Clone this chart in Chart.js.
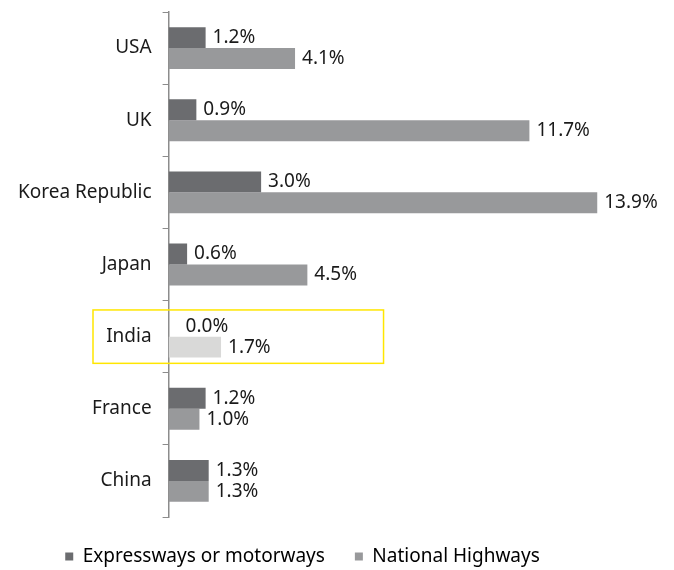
<!DOCTYPE html>
<html>
<head>
<meta charset="utf-8">
<script src="https://cdn.jsdelivr.net/npm/chart.js@4.4.1/dist/chart.umd.min.js"></script>
<style>
  html, body { margin: 0; padding: 0; background: #fff; }
  #wrap { width: 674px; height: 570px; }
</style>
</head>
<body>
<div id="wrap"><canvas id="roadChart"></canvas></div>
<script>
const countries = ['USA', 'UK', 'Korea Republic', 'Japan', 'India', 'France', 'China'];
const expressways = [1.2, 0.9, 3.0, 0.6, 0.0, 1.2, 1.3];
const nationalHighways = [4.1, 11.7, 13.9, 4.5, 1.7, 1.0, 1.3];
const highlight = 'India';

const darkGrey = '#6b6c6f';
const midGrey = '#98999b';
const lightGrey = '#d9d9d8';

// bar end labels
const valueLabels = {
  id: 'valueLabels',
  afterDatasetsDraw(chart) {
    const c = chart.ctx;
    c.save();
    c.font = '19px "Noto Sans"';
    c.fillStyle = '#1a1a1a';
    c.textBaseline = 'middle';
    chart.data.datasets.forEach((ds, i) => {
      chart.getDatasetMeta(i).data.forEach((bar, j) => {
        const v = ds.data[j];
        let x = bar.x + 7;
        if (v === 0) x += 10;
        c.fillText(v.toFixed(1) + '%', x, bar.y);
      });
    });
    c.restore();
  }
};

// yellow box round India
const highlightBox = {
  id: 'highlightBox',
  afterDraw(chart) {
    const y = chart.scales.y, x = chart.scales.x;
    const idx = countries.indexOf(highlight);
    const cy = y.getPixelForValue(idx);
    const half = (y.getPixelForValue(1) - y.getPixelForValue(0)) * 0.37;
    const c = chart.ctx;
    c.save();
    c.strokeStyle = '#ffe600';
    c.lineWidth = 1.5;
    c.strokeRect(93, cy - half, x.getPixelForValue(6.97) - 93, half * 2);
    c.restore();
  }
};

// legend sits a bit left of centre in the original
const legendShift = {
  id: 'legendShift',
  afterLayout(chart) {
    chart.legend.right -= 64;
  }
};

new Chart(document.getElementById('roadChart'), {
  type: 'bar',
  data: {
    labels: countries,
    datasets: [{
      label: 'Expressways or motorways',
      data: expressways,
      backgroundColor: darkGrey
    },
    {
      label: 'National Highways',
      data: nationalHighways,
      backgroundColor: countries.map(c => c === highlight ? lightGrey : midGrey)
    }]
  },
  options: {
    indexAxis: 'y',
    responsive: true,
    maintainAspectRatio: false,
    animation: false,
    categoryPercentage: 0.58,
    barPercentage: 1,
    layout: { padding: { top: 12, right: 12, left: 7, bottom: -6 } },
    scales: {
      x: {
        display: false,
        min: 0,
        max: 16
      },
      y: {
        offset: true,
        afterFit(s) {
          // no extra room for half labels at the ends
          s.paddingTop = 0;
          s.paddingBottom = 0;
        },
        grid: {
          offset: true,
          drawOnChartArea: false,
          tickLength: 6,
          color: '#8c8c8c'
        },
        border: { color: '#8c8c8c', width: 1.5 },
        ticks: {
          color: '#1a1a1a',
          padding: 11,
          font: { family: 'Noto Sans', size: 19 }
        }
      }
    },
    plugins: {
      legend: {
        position: 'bottom',
        labels: {
          boxWidth: 8,
          boxHeight: 8,
          padding: 30,
          color: '#1a1a1a',
          font: { family: 'Noto Sans', size: 19 },
          generateLabels(chart) {
            return chart.data.datasets.map((ds, i) => ({
              text: ds.label,
              fillStyle: i === 0 ? darkGrey : midGrey,
              strokeStyle: 'transparent',
              lineWidth: 0,
              datasetIndex: i
            }));
          }
        }
      },
      tooltip: { enabled: false }
    }
  },
  plugins: [valueLabels, highlightBox, legendShift]
});
</script>
</body>
</html>
